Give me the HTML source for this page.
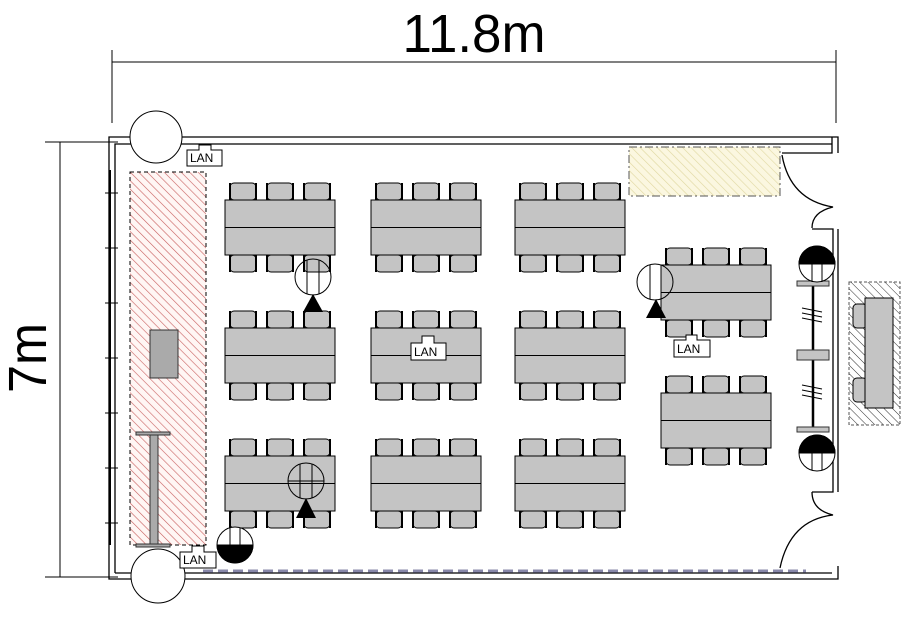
<!DOCTYPE html>
<html><head><meta charset="utf-8"><style>html,body{margin:0;padding:0;background:#fff}svg{display:block}</style></head><body>
<svg width="915" height="620" viewBox="0 0 915 620" xmlns="http://www.w3.org/2000/svg" font-family="Liberation Sans, sans-serif">
<defs>
<pattern id="red" width="6" height="6" patternUnits="userSpaceOnUse" patternTransform="rotate(-45)"><rect width="6" height="6" fill="#fff6f4"/><line x1="0" y1="0" x2="0" y2="6" stroke="#c86060" stroke-width="1.2"/></pattern>
<pattern id="yel" width="6" height="6" patternUnits="userSpaceOnUse" patternTransform="rotate(-45)"><rect width="6" height="6" fill="#fbf7e0"/><line x1="0" y1="0" x2="0" y2="6" stroke="#e0d8a0" stroke-width="1.2"/></pattern>
<pattern id="blk" width="6" height="6" patternUnits="userSpaceOnUse" patternTransform="rotate(-45)"><rect width="6" height="6" fill="#fff"/><line x1="0" y1="0" x2="0" y2="6" stroke="#333" stroke-width="1"/></pattern>
<g id="ch"><rect x="0" y="0" width="26" height="17" rx="4" fill="#c4c4c4" stroke="#000" stroke-width="1"/><line x1="0" y1="0" x2="0" y2="17" stroke="#000" stroke-width="2"/><line x1="26" y1="0" x2="26" y2="17" stroke="#000" stroke-width="2"/></g>
<g id="tb">
<use href="#ch" x="5" y="-17"/><use href="#ch" x="42" y="-17"/><use href="#ch" x="79" y="-17"/>
<use href="#ch" x="5" y="55"/><use href="#ch" x="42" y="55"/><use href="#ch" x="79" y="55"/>
<rect x="0" y="0" width="110" height="55" fill="#c4c4c4" stroke="#000" stroke-width="1"/>
<line x1="0" y1="27.5" x2="110" y2="27.5" stroke="#000"/>
</g>
</defs>
<line x1="112" y1="62" x2="836" y2="62" stroke="#000"/>
<line x1="112" y1="50" x2="112" y2="123" stroke="#000"/>
<line x1="836" y1="50" x2="836" y2="123" stroke="#000"/>
<text x="474" y="52" font-size="54" text-anchor="middle" textLength="143" lengthAdjust="spacingAndGlyphs">11.8m</text>
<line x1="60" y1="142" x2="60" y2="577" stroke="#000"/>
<line x1="45" y1="142" x2="118" y2="142" stroke="#000"/>
<line x1="45" y1="577" x2="118" y2="577" stroke="#000"/>
<text transform="translate(46,358) rotate(-90)" font-size="54" text-anchor="middle" textLength="70" lengthAdjust="spacingAndGlyphs">7m</text>
<g fill="none" stroke="#000" stroke-width="1.3">
<polyline points="838,153 838,137 109,137 109,579 838,579 838,566"/>
<polyline points="782,153 832,153 832,137"/>
<polyline points="115,573 115,144 832,144"/>
<line x1="115" y1="573" x2="832" y2="573"/>
<polyline points="812,229 833,229 833,492 812,492"/>
<line x1="838" y1="229" x2="838" y2="492"/>
<path d="M782,155 Q790,200 833,207 Q812,212 812,228"/>
<path d="M812,492 Q812,510 833,515 Q790,520 780,568"/>
<line x1="110" y1="170" x2="110" y2="545" stroke-width="2"/>
</g>
<g stroke="#000"><line x1="105" y1="193" x2="118" y2="193"/><line x1="105" y1="248" x2="118" y2="248"/><line x1="105" y1="303" x2="118" y2="303"/><line x1="105" y1="358" x2="118" y2="358"/><line x1="105" y1="413" x2="118" y2="413"/><line x1="105" y1="468" x2="118" y2="468"/><line x1="105" y1="523" x2="118" y2="523"/></g>
<circle cx="156" cy="137" r="26" fill="#fff" stroke="#000"/>
<circle cx="158" cy="576" r="27" fill="#fff" stroke="#000"/>
<rect x="130" y="172" width="76" height="373" fill="url(#red)" stroke="#000" stroke-dasharray="4,3"/>
<rect x="150" y="330" width="28" height="48" fill="#aaa" stroke="#333"/>
<rect x="150" y="433" width="8" height="112" fill="#aaa" stroke="#333"/>
<rect x="136" y="432" width="34" height="3" fill="#aaa" stroke="#333"/>
<rect x="136" y="544" width="34" height="3" fill="#aaa" stroke="#333"/>
<rect x="629" y="147" width="151" height="49" fill="url(#yel)" stroke="#555" stroke-dasharray="8,3,2,3"/>
<line x1="203" y1="571" x2="806" y2="571" stroke="#8888aa" stroke-width="3" stroke-dasharray="10,5"/>
<use href="#tb" x="225" y="200"/><use href="#tb" x="371" y="200"/><use href="#tb" x="515" y="200"/>
<use href="#tb" x="225" y="328"/><use href="#tb" x="371" y="328"/><use href="#tb" x="515" y="328"/>
<use href="#tb" x="225" y="456"/><use href="#tb" x="371" y="456"/><use href="#tb" x="515" y="456"/>
<use href="#tb" x="661" y="265"/><use href="#tb" x="661" y="393"/>
<rect x="849" y="282" width="51" height="143" fill="url(#blk)" stroke="#555" stroke-dasharray="3,2"/>
<rect x="853" y="304" width="14" height="24" rx="4" fill="#c4c4c4" stroke="#000"/>
<rect x="853" y="378" width="14" height="24" rx="4" fill="#c4c4c4" stroke="#000"/>
<rect x="865" y="298" width="28" height="110" fill="#c4c4c4" stroke="#000"/>
<line x1="813" y1="282" x2="813" y2="430" stroke="#000" stroke-width="2.5"/>
<rect x="797" y="281" width="32" height="5" fill="#c4c4c4" stroke="#333"/>
<rect x="797" y="350" width="32" height="10" fill="#c4c4c4" stroke="#333"/>
<rect x="797" y="427" width="32" height="5" fill="#c4c4c4" stroke="#333"/>
<g stroke="#000"><line x1="802" y1="308" x2="822" y2="312"/><line x1="802" y1="313" x2="822" y2="317"/><line x1="802" y1="318" x2="822" y2="322"/><line x1="802" y1="385" x2="822" y2="389"/><line x1="802" y1="390" x2="822" y2="394"/><line x1="802" y1="395" x2="822" y2="399"/></g>
<g stroke="#000" fill="none">
<circle cx="817" cy="264" r="18" fill="#fff"/><path d="M799,264 A18,18 0 0 1 835,264 Z" fill="#000"/><line x1="812" y1="250" x2="812" y2="282"/><line x1="822" y1="250" x2="822" y2="282"/>
<circle cx="817" cy="453" r="18" fill="#fff"/><path d="M799,453 A18,18 0 0 1 835,453 Z" fill="#000"/><line x1="812" y1="440" x2="812" y2="470"/><line x1="822" y1="440" x2="822" y2="470"/>
<circle cx="235" cy="545" r="18" fill="#fff"/><path d="M217,545 A18,18 0 0 0 253,545 Z" fill="#000"/><line x1="230" y1="528" x2="230" y2="545"/><line x1="240" y1="528" x2="240" y2="545"/>
<circle cx="313" cy="277" r="18"/><line x1="307" y1="260" x2="307" y2="294"/><line x1="319" y1="260" x2="319" y2="294"/>
<circle cx="655" cy="282" r="18"/><line x1="650" y1="265" x2="650" y2="299"/><line x1="661" y1="265" x2="661" y2="299"/>
<circle cx="306" cy="481" r="18"/><line x1="300" y1="464" x2="300" y2="498"/><line x1="312" y1="464" x2="312" y2="498"/><line x1="288" y1="481" x2="324" y2="481"/>
</g>
<polygon points="313,294 303,312 323,312" fill="#000"/>
<polygon points="656,299 646,318 666,318" fill="#000"/>
<polygon points="306,498 296,518 316,518" fill="#000"/>
<g font-size="12" fill="#000">
<path d="M187,150 H199 V145 H211 V150 H222 V166 H187 Z" fill="#fff" stroke="#000"/><text x="190" y="162">LAN</text>
<path d="M411,343 H422 V336 H434 V343 H446 V360 H411 Z" fill="#fff" stroke="#000"/><text x="414" y="356">LAN</text>
<path d="M674,340 H686 V335 H697 V340 H710 V357 H674 Z" fill="#fff" stroke="#000"/><text x="677" y="353">LAN</text>
<path d="M180,552 H192 V546 H204 V552 H216 V568 H180 Z" fill="#fff" stroke="#000"/><text x="183" y="564">LAN</text>
</g>
</svg>
</body></html>
